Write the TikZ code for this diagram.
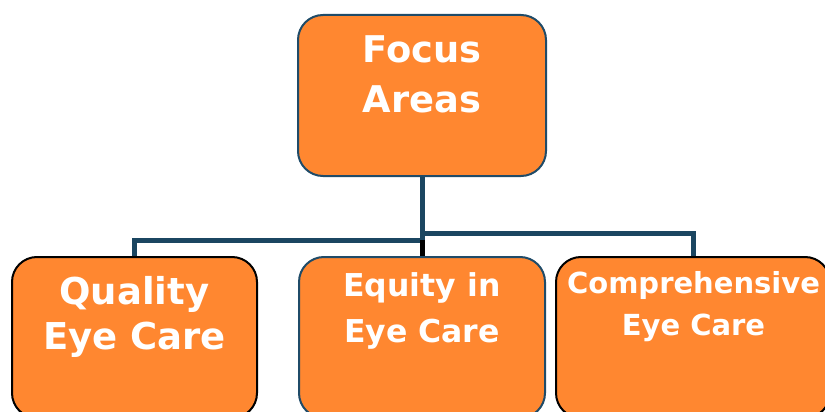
\documentclass[tikz,border=0pt]{standalone}
\usepackage{fontspec}
\setmainfont{DejaVu Sans}
\usepackage{tikz}
\usetikzlibrary{positioning}
\definecolor{areaorange}{HTML}{FF8730}
\definecolor{areablue}{HTML}{1F4B68}
\definecolor{linkblue}{HTML}{1B4661}

\begin{document}
\begin{tikzpicture}[x=1pt, y=-1pt, area/.style={draw=areablue, line width=2pt, fill=areaorange, rounded corners=25pt, minimum height=161pt, inner sep=0pt}, areatext/.style={text=white, align=center, inner sep=0pt}, link/.style={draw=linkblue, line width=5pt}]
  \useasboundingbox (0,0) rectangle (825,412);
  \clip (0,0) rectangle (825,412);
  % boxes
  \node[area, minimum width=248pt] (focus) at (422,95.5) {};
  \node[area, draw=black, minimum width=245pt] (quality) at (134.5,337.5) {};
  \node[area, minimum width=246pt] (equity) at (422,337.5) {};
  \node[area, draw=black, minimum width=274pt] (compr) at (693,337.5) {};
  % links
  \coordinate (forkl) at (422,240);
  \coordinate (forkr) at (422,233);
  \draw[link] (focus.south) -- (forkl);
  \draw[link] (forkl) -| (quality.north);
  \draw[link] (forkr) -| (compr.north);
  \draw[line width=5pt] (forkl) -- (equity.north);
  % texts
  \node[areatext, font=\bfseries\fontsize{36.8}{50}\selectfont] (focus-text) at (422,74) {Focus\\Areas};
  \node[areatext, font=\bfseries\fontsize{37}{45}\selectfont] (quality-text) at (134.5,316.5) {Quality\\Eye Care};
  \node[areatext, font=\bfseries\fontsize{31.5}{46}\selectfont] (equity-text) at (422,311) {Equity in\\Eye Care};
  \node[areatext, font=\bfseries\fontsize{29}{42}\selectfont] (compr-text) at (693.5,307) {Comprehensive\\Eye Care};
\end{tikzpicture}
\end{document}
